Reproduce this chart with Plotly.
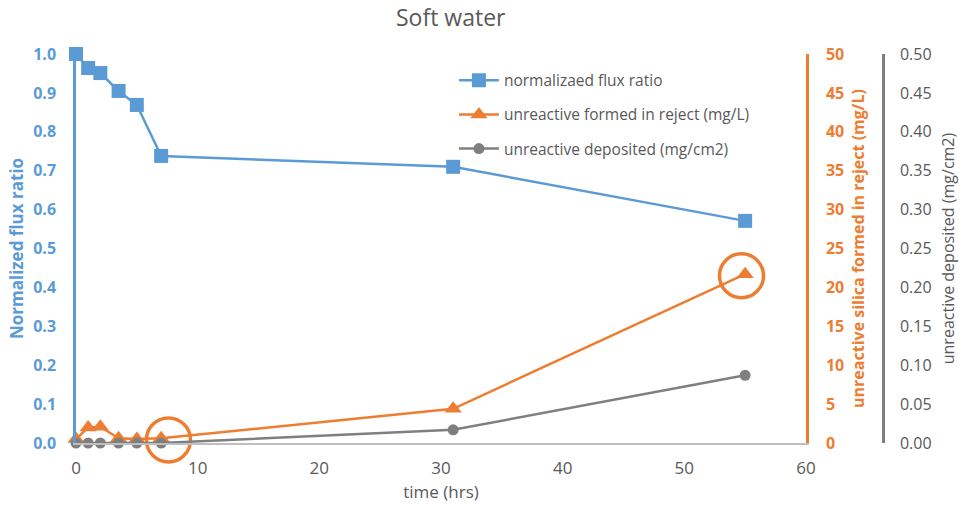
import plotly.graph_objects as go

# ---- data ----
time_hrs = [0, 1, 2, 3.5, 5, 7, 31, 55]
flux_ratio = [1.0, 0.964, 0.951, 0.905, 0.869, 0.738, 0.71, 0.571]
unreactive_reject = [0.5, 2.0, 2.1, 0.6, 0.5, 0.6, 4.4, 21.7]
unreactive_deposited = [0.0, 0.0, 0.0, 0.0, 0.0, 0.0, 0.017, 0.087]
highlight_x = [7.6, 54.7]
highlight_y = [0.4, 21.5]

x_ticks = [0, 10, 20, 30, 40, 50, 60]

BLUE = "#5B9BD5"
ORANGE = "#ED7D31"
GRAY = "#7F7F7F"
TXT = "#595959"
FONT = "Open Sans"

fig = go.Figure()

fig.add_trace(go.Scatter(
    x=time_hrs, y=flux_ratio, name="normalizaed flux ratio",
    mode="lines+markers", line=dict(color=BLUE, width=2.5),
    marker=dict(symbol="square", size=14, color=BLUE),
    cliponaxis=False, legendgroup="a", yaxis="y"))
fig.add_trace(go.Scatter(
    x=time_hrs, y=unreactive_reject, name="unreactive formed in reject (mg/L)",
    mode="lines+markers", line=dict(color=ORANGE, width=2.5),
    marker=dict(symbol="triangle-up", size=15, color=ORANGE),
    cliponaxis=False, legendgroup="b", yaxis="y2"))
fig.add_trace(go.Scatter(
    x=time_hrs, y=unreactive_deposited, name="unreactive deposited (mg/cm2)",
    mode="lines+markers", line=dict(color=GRAY, width=2.5),
    marker=dict(symbol="circle", size=11, color=GRAY),
    cliponaxis=False, legendgroup="c", yaxis="y3"))
fig.add_trace(go.Scatter(
    x=highlight_x, y=highlight_y, mode="markers", showlegend=False,
    marker=dict(symbol="circle-open", size=44, color=ORANGE,
                line=dict(color=ORANGE, width=3.5)),
    cliponaxis=False, yaxis="y2", hoverinfo="skip"))

fig.update_layout(
    width=959, height=509,
    margin=dict(l=76, r=0, t=54, b=66, autoexpand=False),
    paper_bgcolor="white", plot_bgcolor="white",
    font=dict(family=FONT, color=TXT),
    title=dict(text="Soft water", x=0.47, xanchor="center", y=0.965, yanchor="middle",
               font=dict(size=23, color=TXT, family=FONT)),
    showlegend=True,
    legend=dict(x=0.428, y=0.975, xanchor="left", yanchor="top",
                font=dict(size=15.5, color=TXT), bgcolor="rgba(0,0,0,0)",
                tracegroupgap=11, itemwidth=40),
    xaxis=dict(domain=[0, 0.8267], range=[0, 60], tickvals=x_ticks,
               showgrid=False, zeroline=False, showline=True, automargin=False,
               linecolor="#BFBFBF", linewidth=1.5,
               tickfont=dict(size=17, color=TXT),
               ticklabelstandoff=9,
               title=dict(text="time (hrs)", font=dict(size=17, color=TXT), standoff=8)),
    yaxis=dict(range=[0, 1.0], dtick=0.1, tickformat=".1f", automargin=False,
               showgrid=False, zeroline=False, showline=True,
               linecolor=BLUE, linewidth=2.5,
               tickfont=dict(size=16, color=BLUE, weight="bold"),
               ticklabelstandoff=14,
               title=dict(text="Normalized flux ratio",
                          font=dict(size=17, color=BLUE, weight="bold"), standoff=6)),
    yaxis2=dict(range=[0, 50], dtick=5, overlaying="y", side="right", anchor="x",
                showgrid=False, zeroline=False, showline=True, automargin=False,
                linecolor=ORANGE, linewidth=2.5,
                tickfont=dict(size=16, color=ORANGE, weight="bold"),
                ticklabelstandoff=14,
                title=dict(text="unreactive silica formed in reject (mg/L)",
                           font=dict(size=16, color=ORANGE, weight="bold"), standoff=10)),
    yaxis3=dict(range=[0, 0.5], dtick=0.05, tickformat=".2f", overlaying="y",
                side="right", anchor="free", position=0.9139, automargin=False,
                showgrid=False, zeroline=False, showline=True,
                linecolor=GRAY, linewidth=2.5,
                tickfont=dict(size=16, color=TXT),
                ticklabelstandoff=12,
                title=dict(text="unreactive deposited (mg/cm2)",
                           font=dict(size=16, color=TXT), standoff=14)),
)

fig.write_html("out.html")
